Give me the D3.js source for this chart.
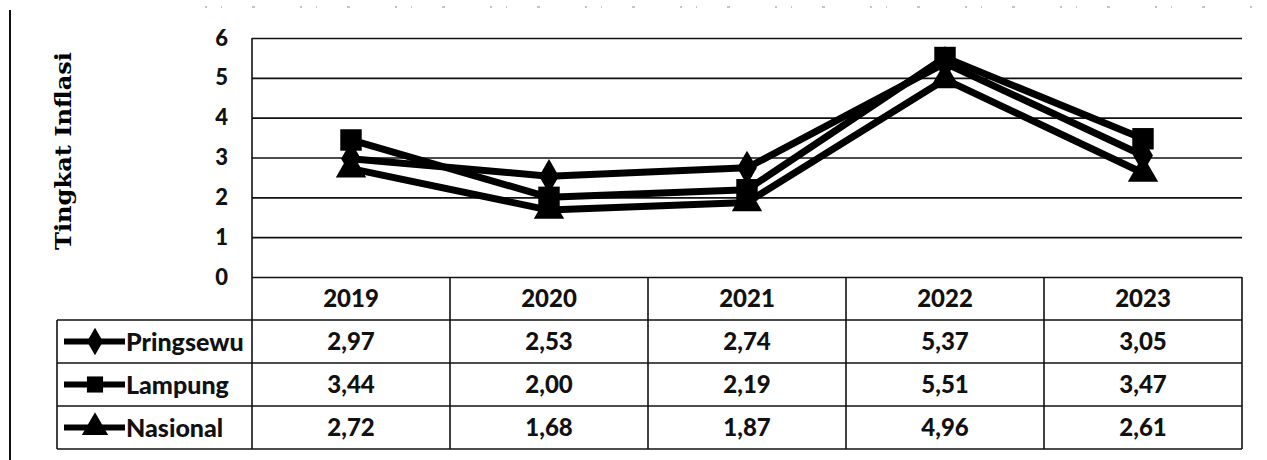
<!DOCTYPE html>
<html>
<head>
<meta charset="utf-8">
<script src="https://cdn.jsdelivr.net/npm/d3@7"></script>
<style>
  body { margin: 0; background: #fff; }
  svg { display: block; }
  .tick text { font-family: Lato, "Open Sans", sans-serif; font-weight: 900; }
</style>
</head>
<body>
<svg class="chart"></svg>
<script>
// data
var years = ["2019", "2020", "2021", "2022", "2023"];
var seriesNames = ["Pringsewu", "Lampung", "Nasional"];
var pringsewu = [2.97, 2.53, 2.74, 5.37, 3.05];
var lampung = [3.44, 2.00, 2.19, 5.51, 3.47];
var nasional = [2.72, 1.68, 1.87, 4.96, 2.61];
var yTicks = [0, 1, 2, 3, 4, 5, 6];

var seriesValues = [pringsewu, lampung, nasional];
var symbols = [d3.symbolDiamond, d3.symbolSquare, d3.symbolTriangle];
var symbolSizes = [340, 460, 400];
var keySizes = [220, 260, 300];

var width = 1267, height = 460;
var plot = { left: 252, right: 1242, top: 38, bottom: 277 };
var rowH = 43;

var svg = d3.select(".chart")
  .attr("width", width)
  .attr("height", height);

// scales
var x = d3.scaleBand().domain(years).range([plot.left, plot.right]).padding(0);
var y = d3.scaleLinear().domain([0, 6]).range([plot.bottom, plot.top]);
var cx = function(yr) { return x(yr) + x.bandwidth() / 2; };

// page frame bits (scan edge)
svg.append("line")
  .attr("x1", 10).attr("x2", 10).attr("y1", 10).attr("y2", height)
  .attr("stroke", "#111").attr("stroke-width", 2);
svg.append("line")
  .attr("x1", 205).attr("x2", 1262).attr("y1", 7).attr("y2", 7)
  .attr("stroke", "#888").attr("stroke-width", 1)
  .attr("stroke-dasharray", "2 14 1 30 3 45");

// y axis + gridlines
var yAxis = svg.append("g")
  .attr("transform", "translate(" + plot.left + ",0)")
  .call(d3.axisLeft(y).tickValues(yTicks).tickFormat(d3.format("d"))
    .tickSize(-(plot.right - plot.left)).tickPadding(24));
yAxis.select(".domain").remove();
yAxis.selectAll(".tick line").attr("stroke", "#111").attr("stroke-width", 1.6);
yAxis.selectAll(".tick text").attr("font-size", 22).attr("fill", "#111");

svg.append("line")
  .attr("x1", plot.left).attr("x2", plot.left)
  .attr("y1", plot.top).attr("y2", plot.bottom)
  .attr("stroke", "#111").attr("stroke-width", 1.6);

// axis title
svg.append("text")
  .attr("transform", "translate(71,151) rotate(-90)")
  .attr("text-anchor", "middle")
  .attr("font-family", "'DejaVu Serif', serif")
  .attr("font-weight", 700)
  .attr("font-size", 23)
  .attr("textLength", 198)
  .attr("lengthAdjust", "spacingAndGlyphs")
  .attr("fill", "#000")
  .text("Tingkat Inflasi");

// lines
var line = d3.line()
  .x(function(d, i) { return cx(years[i]); })
  .y(function(d) { return y(d); });

seriesValues.forEach(function(vals) {
  svg.append("path")
    .datum(vals)
    .attr("fill", "none")
    .attr("stroke", "#000")
    .attr("stroke-width", 7)
    .attr("stroke-linejoin", "round")
    .attr("d", line);
});

seriesValues.forEach(function(vals, s) {
  svg.selectAll(".m" + s)
    .data(vals)
    .enter().append("path")
    .attr("class", "m" + s)
    .attr("transform", function(d, i) { return "translate(" + cx(years[i]) + "," + y(d) + ")"; })
    .attr("d", d3.symbol().type(symbols[s]).size(symbolSizes[s]))
    .attr("fill", "#000");
});

// data table
var table = svg.append("g").attr("class", "table");
var tLeft = 57;
var tTop = plot.bottom;
var tBottom = tTop + rowH * 4;

function hline(x1, x2, yy) {
  table.append("line").attr("x1", x1).attr("x2", x2).attr("y1", yy).attr("y2", yy)
    .attr("stroke", "#111").attr("stroke-width", 1.6);
}
function vline(xx, y1, y2) {
  table.append("line").attr("x1", xx).attr("x2", xx).attr("y1", y1).attr("y2", y2)
    .attr("stroke", "#111").attr("stroke-width", 1.6);
}

hline(tLeft, plot.right, tTop + rowH);
hline(tLeft, plot.right, tTop + rowH * 2);
hline(tLeft, plot.right, tTop + rowH * 3);
hline(tLeft, plot.right, tBottom);
vline(tLeft, tTop + rowH, tBottom);
years.forEach(function(yr) { vline(x(yr), tTop, tBottom); });
vline(plot.right, tTop, tBottom);

var font = "Lato, 'Open Sans', sans-serif";

// header years
table.selectAll(".yr")
  .data(years)
  .enter().append("text")
  .attr("class", "yr")
  .attr("x", function(d) { return cx(d); })
  .attr("y", tTop + rowH / 2)
  .attr("dy", "0.36em")
  .attr("text-anchor", "middle")
  .attr("font-family", font)
  .attr("font-weight", 900)
  .attr("font-size", 24)
  .attr("fill", "#111")
  .text(function(d) { return d; });

var fmt = function(v) { return d3.format(".2f")(v).replace(".", ","); };

seriesValues.forEach(function(vals, s) {
  var rowY = tTop + rowH * (s + 1) + rowH / 2;
  table.selectAll(".v" + s)
    .data(vals)
    .enter().append("text")
    .attr("class", "v" + s)
    .attr("x", function(d, i) { return cx(years[i]); })
    .attr("y", rowY)
    .attr("dy", "0.36em")
    .attr("text-anchor", "middle")
    .attr("font-family", font)
    .attr("font-weight", 900)
    .attr("font-size", 24)
    .attr("fill", "#111")
    .text(fmt);

  // legend key
  table.append("line")
    .attr("x1", 64).attr("x2", 125).attr("y1", rowY).attr("y2", rowY)
    .attr("stroke", "#000").attr("stroke-width", 6);
  table.append("path")
    .attr("transform", "translate(95," + rowY + ")")
    .attr("d", d3.symbol().type(symbols[s]).size(keySizes[s]))
    .attr("fill", "#000");
  table.append("text")
    .attr("x", 126)
    .attr("y", rowY)
    .attr("dy", "0.36em")
    .attr("font-family", font)
    .attr("font-weight", 900)
    .attr("font-size", 25)
    .attr("fill", "#111")
    .text(seriesNames[s]);
});
</script>
</body>
</html>
